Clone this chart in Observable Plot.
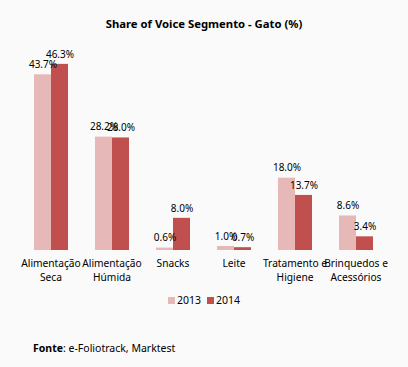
<!DOCTYPE html>
<html>
<head>
<meta charset="utf-8">
<script src="https://cdn.jsdelivr.net/npm/d3@7"></script>
<script src="https://cdn.jsdelivr.net/npm/@observablehq/plot@0.6"></script>
<style>
  html, body { margin: 0; padding: 0; background: #fafafa; }
  #wrap { position: relative; width: 408px; height: 367px; background: #fafafa; font-family: "Noto Sans", sans-serif; overflow: hidden; }
  #title { position: absolute; top: 16px; left: 0; width: 408px; text-align: center; font-weight: bold; font-size: 11.3px; color: #000; }
  #chart { position: absolute; top: 0; left: 0; }
  #legend { position: absolute; top: 293px; left: 0; width: 408px; text-align: center; font-size: 10.5px; color: #000; }
  #legend span.sw { display: inline-block; width: 7px; height: 7px; margin-right: 2px; vertical-align: 0px; }
  #legend span.item { margin: 0 3px; }
  #footer { position: absolute; top: 341px; left: 33px; font-size: 10.5px; color: #000; }
</style>
</head>
<body>
<div id="wrap">
  <div id="chart"></div>
  <div id="title"></div>
  <div id="legend"></div>
  <div id="footer"></div>
</div>
<script>
const titleText = "Share of Voice Segmento - Gato (%)";
const categories = ["Alimentação Seca", "Alimentação Húmida", "Snacks", "Leite", "Tratamento e Higiene", "Brinquedos e Acessórios"];
const tickLabels = ["Alimentação\nSeca", "Alimentação\nHúmida", "Snacks", "Leite", "Tratamento e\nHigiene", "Brinquedos e\nAcessórios"];
const years = ["2013", "2014"];
const values2013 = [43.7, 28.2, 0.6, 1.0, 18.0, 8.6];
const values2014 = [46.3, 28.0, 8.0, 0.7, 13.7, 3.4];
const colors = ["#e6b9b8", "#c0504d"];
const sourceBold = "Fonte";
const sourceText = ": e-Foliotrack, Marktest";

const data = [];
categories.forEach((c, i) => {
  data.push({cat: c, year: years[0], value: values2013[i]});
  data.push({cat: c, year: years[1], value: values2014[i]});
});

const labelOf = new Map(categories.map((c, i) => [c, tickLabels[i]]));

const plot = Plot.plot({
  width: 408,
  height: 367,
  marginLeft: 18,
  marginRight: 19,
  marginTop: 49,
  marginBottom: 117,
  style: {background: "transparent", fontFamily: "Noto Sans, sans-serif", fontSize: "10.5px", color: "#000"},
  fx: {domain: categories, paddingInner: 0.42, paddingOuter: 0.21, label: null},
  x: {domain: years, padding: 0, axis: null},
  y: {domain: [0, 50], axis: null},
  color: {domain: years, range: colors},
  marks: [
    Plot.barY(data, {fx: "cat", x: "year", y: "value", fill: "year"}),
    Plot.text(data, {fx: "cat", x: "year", y: "value", text: d => d.value.toFixed(1) + "%", dy: -10, fill: "#000", fontSize: 10}),
    Plot.axisFx({anchor: "bottom", tickSize: 0, tickPadding: 6, tickFormat: c => labelOf.get(c), label: null, fontSize: 10.2, lineHeight: 1.4})
  ]
});
document.getElementById("chart").appendChild(plot);
document.getElementById("title").textContent = titleText;

const legend = document.getElementById("legend");
years.forEach((y, i) => {
  const item = document.createElement("span");
  item.className = "item";
  const sw = document.createElement("span");
  sw.className = "sw";
  sw.style.background = colors[i];
  item.appendChild(sw);
  item.appendChild(document.createTextNode(y));
  legend.appendChild(item);
});

const footer = document.getElementById("footer");
const b = document.createElement("b");
b.textContent = sourceBold;
footer.appendChild(b);
footer.appendChild(document.createTextNode(sourceText));
</script>
</body>
</html>
